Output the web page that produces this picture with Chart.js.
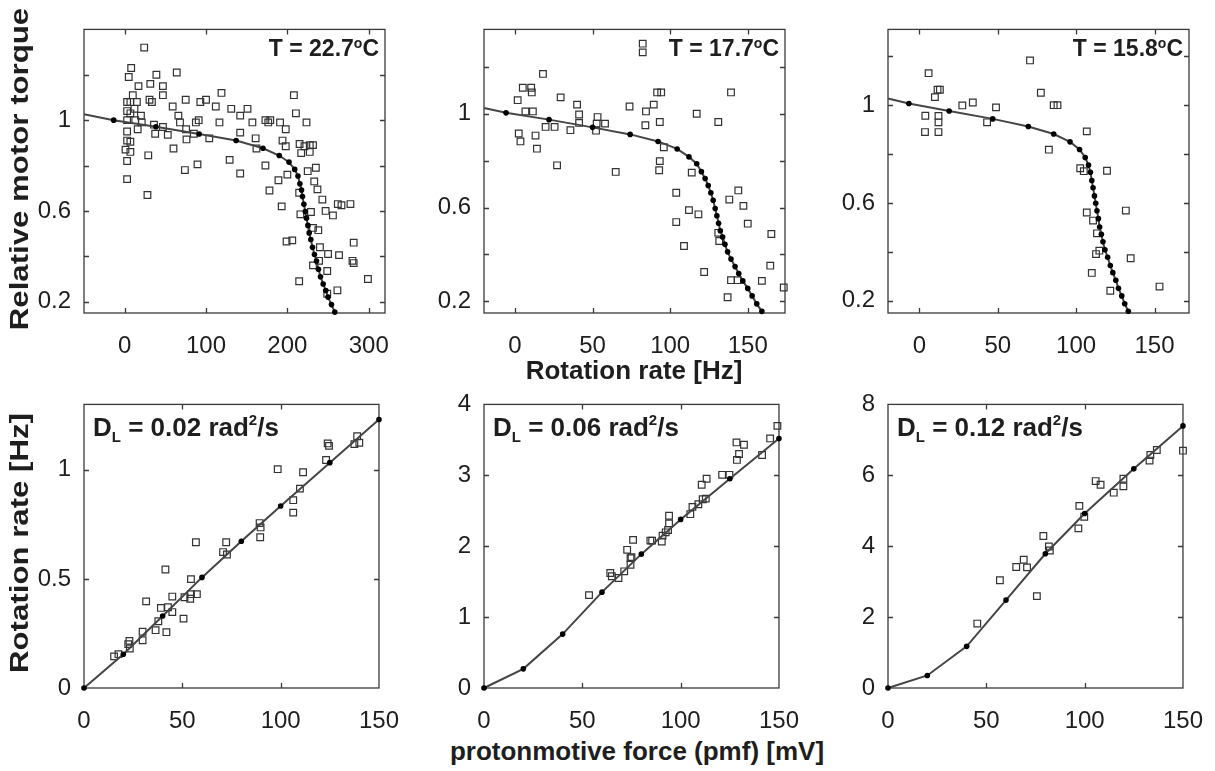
<!DOCTYPE html>
<html>
<head>
<meta charset="utf-8">
<script src="https://cdn.jsdelivr.net/npm/chart.js@4.4.0/dist/chart.umd.min.js"></script>
<style>
  body { margin: 0; background: #fff; width: 1215px; height: 771px; position: relative; overflow: hidden;
         font-family: 'Liberation Sans', Arial, sans-serif; color: #1e1e1e; }
  canvas { position: absolute; }
  .lbl { position: absolute; font-weight: bold; font-size: 26px; white-space: nowrap; transform: translate(-50%, -50%); }
  .rot { transform: translate(-50%, -50%) rotate(-90deg) scale(1.2, 1); }
</style>
</head>
<body>
<canvas id="p1" width="386" height="343"></canvas>
<canvas id="p2" width="386" height="343"></canvas>
<canvas id="p3" width="386" height="343"></canvas>
<canvas id="p4" width="386" height="343"></canvas>
<canvas id="p5" width="386" height="343"></canvas>
<canvas id="p6" width="386" height="343"></canvas>
<div class="lbl rot" style="left:19px;top:169px">Relative motor torque</div>
<div class="lbl rot" style="left:19px;top:543px">Rotation rate [Hz]</div>
<div class="lbl" style="left:634px;top:370px">Rotation rate [Hz]</div>
<div class="lbl" style="left:637px;top:751px">protonmotive force (pmf) [mV]</div>
<script>
// ---- data: [x, y] pairs ----
// top row: relative torque vs rotation rate (Hz)
const p1Squares = [[24,1.32],[8,1.23],[5,1.19],[39,1.2],[64,1.21],[31.5,1.16],[17,1.15],[47,1.15],[10,1.11],[3,1.08],[7,1.08],[15,1.08],[30.5,1.09],[33.5,1.08],[47,1.11],[59,1.06],[75,1.09],[93,1.08],[100,1.09],[119,1.12],[112,1.06],[131,1.05],[142,1.02],[151,1.05],[157,0.99],[3,1.04],[7,1.03],[12,1.05],[20,1.02],[13,1.0],[21,0.99],[3,1.0],[66,1.02],[68,0.99],[87.5,0.99],[91,1.0],[116.5,0.99],[3,0.95],[16,0.96],[36,0.98],[37.5,0.94],[47,0.97],[53,0.935],[75.5,0.96],[76,0.915],[85,0.94],[104,0.92],[3,0.91],[7,0.905],[1,0.87],[7,0.86],[3,0.82],[29,0.845],[3,0.74],[28,0.67],[60,0.875],[74,0.78],[89.5,0.805],[129,0.825],[142,0.765],[142,0.945],[161,0.92],[162,0.875],[173,1.0],[179,1.0],[176.5,0.99],[191,0.99],[198,0.96],[194,0.91],[198,0.885],[208,1.11],[210.5,1.03],[223.5,0.99],[215,0.895],[217,0.855],[221,0.885],[227.5,0.89],[231.5,0.89],[227.5,0.86],[173,0.8],[178,0.69],[189,0.735],[193,0.62],[200,0.76],[199,0.465],[206,0.47],[214.5,0.29],[225,0.775],[235,0.79],[233,0.73],[237,0.695],[214.5,0.68],[216,0.585],[229,0.595],[243,0.65],[247,0.6],[256,0.58],[262,0.63],[266.5,0.625],[277.5,0.63],[231.5,0.525],[238,0.515],[240,0.44],[250,0.41],[239,0.38],[231.5,0.36],[249,0.335],[263.5,0.405],[280,0.38],[281.5,0.37],[281.5,0.46],[299,0.3],[261.5,0.25],[249,0.235]];
const p1Fit = [[-50,1.026],[-13.5,1.0],[38.4,0.971],[91.5,0.939],[137,0.91],[170,0.876],[190,0.844],[202,0.815],[209,0.783],[213,0.754],[215.4,0.72],[217.4,0.692],[218.6,0.663],[220.3,0.629],[222,0.597],[223.5,0.568],[225.2,0.536],[226.8,0.503],[228.8,0.474],[230.9,0.44],[233.3,0.408],[235.8,0.379],[238.2,0.343],[240.7,0.31],[244,0.278],[247.2,0.249],[250,0.22],[254.2,0.187],[258.3,0.154]];

const p2Squares = [[82.3,1.299],[82.3,1.262],[18,1.17],[5,1.111],[10.4,1.111],[10.8,1.091],[1.7,1.058],[6.7,1.01],[11.5,1.01],[2.4,0.916],[3.5,0.882],[13.2,0.907],[14.1,0.851],[27.1,0.78],[19.7,0.944],[25.5,0.944],[29.4,1.07],[40,1.039],[41.3,0.997],[41.3,0.961],[35.7,0.93],[52.2,0.928],[53.2,0.986],[52.6,0.958],[58,0.958],[64.9,0.752],[73.8,1.031],[84.4,1.01],[84,0.951],[89.4,1.039],[91.6,1.091],[94.2,1.091],[93.3,0.965],[95.9,0.857],[93.3,0.798],[92.9,0.759],[117.1,1.0],[131,0.965],[139.2,1.091],[113.9,0.749],[103.9,0.663],[103.9,0.538],[112.1,0.589],[118.2,0.571],[108.9,0.436],[121.9,0.325],[131,0.492],[131.6,0.457],[138.1,0.634],[143.9,0.673],[147.2,0.607],[150,0.531],[139.2,0.29],[143.5,0.29],[137,0.217],[159.1,0.287],[164.5,0.352],[165.2,0.487],[173.2,0.259]];
const p2Fit = [[-20,1.025],[-5.8,1.004],[21.9,0.975],[50,0.942],[74.2,0.912],[92.2,0.882],[104.5,0.85],[112.1,0.816],[117.1,0.787],[120.1,0.753],[122.5,0.724],[124.5,0.694],[126.2,0.663],[127.7,0.631],[129,0.596],[130.1,0.565],[131.2,0.533],[132.3,0.501],[133.8,0.474],[135.3,0.443],[137,0.411],[139.2,0.38],[141.8,0.348],[144.2,0.318],[146.8,0.287],[150,0.255],[152.8,0.223],[155.8,0.189],[159.1,0.157]];

const p3Squares = [[5.9,1.131],[70.6,1.183],[9.9,1.033],[11.6,1.063],[13.1,1.063],[3.8,0.957],[12.2,0.956],[12.2,0.93],[3.6,0.89],[12.2,0.89],[27.4,0.999],[34.1,1.011],[43.2,0.93],[48.9,0.991],[77.5,1.051],[85.7,1.0],[88.1,1.0],[82.6,0.818],[106.8,0.893],[102.6,0.742],[104.9,0.73],[119.7,0.732],[106.8,0.561],[110.8,0.528],[113.3,0.476],[112.7,0.391],[114.8,0.405],[110,0.314],[121.8,0.241],[131.7,0.569],[134.8,0.374],[153.2,0.258]];
const p3Fit = [[-20,1.027],[-6.7,1.007],[19,0.976],[46.8,0.944],[69.5,0.913],[85.7,0.882],[96.1,0.85],[102.2,0.819],[105.8,0.786],[107.9,0.755],[109.1,0.726],[110,0.692],[110.8,0.662],[111.7,0.629],[112.5,0.599],[113.3,0.568],[114.2,0.536],[115,0.502],[116.1,0.472],[117.1,0.441],[118.4,0.409],[120.1,0.378],[121.8,0.344],[123.4,0.315],[125.3,0.284],[127,0.251],[129.1,0.22],[131,0.188],[133.3,0.157]];

// bottom row: rotation rate (Hz) vs pmf (mV)
const p4Squares = [[15.3,0.145],[17.5,0.155],[22.5,0.201],[23.3,0.181],[23.1,0.216],[29.8,0.219],[29.8,0.258],[31.6,0.397],[36.4,0.265],[37.8,0.306],[39.1,0.367],[41.9,0.256],[41.4,0.543],[42.7,0.37],[44.9,0.348],[44.9,0.419],[50.6,0.318],[51.1,0.416],[54,0.409],[54.4,0.499],[54.4,0.43],[57.4,0.43],[56.9,0.668],[70.7,0.623],[72.7,0.612],[72.3,0.668],[89.3,0.756],[89.8,0.736],[89.6,0.691],[98.5,1.003],[106.4,0.861],[106.4,0.804],[109.8,0.914],[111.4,0.989],[123.1,1.045],[123.9,1.121],[124.6,1.11],[137.5,1.118],[138.9,1.154],[140,1.124]];
const p4Fit = [[0,0],[20,0.155],[40,0.33],[60,0.507],[80,0.673],[100,0.834],[125,1.033],[150,1.231]];

const p5Squares = [[53.4,1.31],[64.2,1.622],[65,1.576],[68.4,1.552],[71.3,1.646],[72.8,1.949],[74.5,1.832],[74.5,1.739],[75.8,2.089],[75,1.846],[84.6,2.079],[85.5,2.079],[90.4,2.065],[90.8,2.149],[92.4,2.196],[93.6,2.228],[94.1,2.322],[94.1,2.429],[104.9,2.452],[106,2.555],[109,2.592],[111.2,2.662],[112.8,2.671],[110.7,2.867],[113.2,2.951],[121.1,3.007],[124.8,3.007],[128.6,3.217],[129.7,3.301],[128.4,3.464],[132.2,3.431],[141.4,3.287],[145.5,3.52],[149.2,3.697]];
const p5Fit = [[0,0],[20,0.27],[40,0.76],[60,1.352],[80,1.888],[100,2.378],[125,2.951],[150,3.52]];

const p6Squares = [[45.4,1.818],[56.9,3.04],[65.2,3.413],[69,3.618],[70.7,3.403],[75.7,2.592],[79,4.289],[81.8,3.991],[82.3,3.879],[96.8,4.503],[97.3,5.138],[99.8,4.83],[105.6,5.837],[108.1,5.734],[114.8,5.51],[119.7,5.902],[119.7,5.688],[133,6.415],[133.4,6.573],[136.7,6.713],[150,6.695]];
const p6Fit = [[0,0],[20,0.354],[40,1.175],[60,2.48],[80,3.786],[100,4.923],[125,6.182],[150,7.394]];

const FONT = "'Liberation Sans', Arial, sans-serif";
const TICK_FONT = "'Liberation Sans Narrow', 'Arial Narrow', 'Liberation Sans', Arial, sans-serif";
const INK = '#1e1e1e';

// MATLAB style box with inward ticks on all four sides
const boxTicks = {
  id: 'boxTicks',
  beforeDatasetsDraw(chart) {
    const { ctx, chartArea: a, scales: { x, y } } = chart;
    ctx.save();
    ctx.strokeStyle = '#3a3a3a';
    ctx.lineWidth = 1.3;
    ctx.strokeRect(a.left, a.top, a.width, a.height);
    ctx.beginPath();
    x.ticks.forEach(t => {
      const px = Math.round(x.getPixelForValue(t.value)) + 0.5;
      if (px <= a.left + 1 || px >= a.right - 1) return;
      ctx.moveTo(px, a.bottom); ctx.lineTo(px, a.bottom - 5);
      ctx.moveTo(px, a.top); ctx.lineTo(px, a.top + 5);
    });
    y.ticks.forEach(t => {
      const py = Math.round(y.getPixelForValue(t.value)) + 0.5;
      if (py <= a.top + 1 || py >= a.bottom - 1) return;
      ctx.moveTo(a.left, py); ctx.lineTo(a.left + 5, py);
      ctx.moveTo(a.right, py); ctx.lineTo(a.right - 5, py);
    });
    ctx.stroke();
    ctx.restore();
  }
};

// in-plot label with sub/superscripts
const note = {
  id: 'note',
  afterDraw(chart, args, opts) {
    if (!opts.parts) return;
    const { ctx, chartArea: a } = chart;
    const fontOf = p => `bold ${p.size}px ${FONT}`;
    ctx.save();
    ctx.fillStyle = INK;
    ctx.textBaseline = 'alphabetic';
    let w = 0;
    opts.parts.forEach(p => { ctx.font = fontOf(p); w += ctx.measureText(p.t).width; });
    let x = opts.align === 'right' ? a.right - opts.dx - w : a.left + opts.dx;
    const base = a.top + opts.dy;
    opts.parts.forEach(p => {
      ctx.font = fontOf(p);
      ctx.fillText(p.t, x, base - (p.rise || 0));
      x += ctx.measureText(p.t).width;
    });
    ctx.restore();
  }
};

const near = (v, list) => list.some(s => Math.abs(v - s) < 1e-6);

function makePanel(id, left, top, cfg) {
  const el = document.getElementById(id);
  el.style.left = (left - 60) + 'px';
  el.style.top = (top - 15) + 'px';
  const pts = arr => arr.map(p => ({ x: p[0], y: p[1] }));
  new Chart(el, {
    type: 'scatter',
    data: {
      datasets: [
        {
          label: 'model',
          data: pts(cfg.fit),
          showLine: true,
          borderColor: '#454545',
          borderWidth: 2,
          pointRadius: cfg.fit.map((p, i) => (cfg.skipFirst && i === 0) ? 0 : 2.8),
          pointBackgroundColor: '#000',
          pointBorderWidth: 0,
          clip: false
        },
        {
          label: 'data',
          data: pts(cfg.squares),
          pointStyle: 'rect',
          pointRadius: 4.7,
          pointBorderColor: '#333',
          pointBorderWidth: 1.2,
          pointBackgroundColor: 'rgba(0,0,0,0)',
          clip: false
        }
      ]
    },
    options: {
      responsive: false,
      animation: false,
      layout: { padding: { left: 0, top: 15, right: 25, bottom: 0 } },
      plugins: {
        legend: { display: false },
        tooltip: { enabled: false },
        note: cfg.note
      },
      scales: {
        x: {
          type: 'linear', min: cfg.xMin, max: cfg.xMax,
          grid: { display: false }, border: { display: false },
          afterFit: s => { s.height = 40; },
          ticks: { stepSize: cfg.xStep, includeBounds: false, padding: 11, maxRotation: 0,
                   color: INK, font: { family: TICK_FONT, size: 24 } }
        },
        y: {
          type: 'linear', min: cfg.yMin, max: cfg.yMax,
          grid: { display: false }, border: { display: false },
          afterFit: s => { s.width = 60; },
          ticks: { stepSize: cfg.yStep, includeBounds: false, padding: 5,
                   color: INK, font: { family: TICK_FONT, size: 24 },
                   callback: cfg.yLabel }
        }
      }
    },
    plugins: [boxTicks, note]
  });
}

const torqueLabel = v => near(v, [0.2, 0.6, 1]) ? String(Math.round(v * 10) / 10) : '';
const rateLabel = v => String(Math.round(v * 10) / 10);
const tNote = t => ({ align: 'right', dx: 6, dy: 27, parts: [
  { t: 'T = ' + t, size: 23 }, { t: 'o', size: 14, rise: 8 }, { t: 'C', size: 23 }] });
const dNote = d => ({ align: 'left', dx: 9, dy: 32, parts: [
  { t: 'D', size: 26 }, { t: 'L', size: 15, rise: -6 }, { t: ' = ' + d + ' rad', size: 26 },
  { t: '2', size: 15, rise: 11 }, { t: '/s', size: 26 }] });

makePanel('p1', 84, 25, { squares: p1Squares, fit: p1Fit, skipFirst: true, xMin: -50, xMax: 320, xStep: 100,
  yMin: 0.15, yMax: 1.4, yStep: 0.2, yLabel: torqueLabel, note: tNote('22.7') });
makePanel('p2', 484, 25, { squares: p2Squares, fit: p2Fit, skipFirst: true, xMin: -20, xMax: 174, xStep: 50,
  yMin: 0.15, yMax: 1.36, yStep: 0.2, yLabel: torqueLabel, note: tNote('17.7') });
makePanel('p3', 888, 25, { squares: p3Squares, fit: p3Fit, skipFirst: true, xMin: -20, xMax: 172, xStep: 50,
  yMin: 0.15, yMax: 1.31, yStep: 0.2, yLabel: torqueLabel, note: tNote('15.8') });
makePanel('p4', 84, 400, { squares: p4Squares, fit: p4Fit, xMin: 0, xMax: 150, xStep: 50,
  yMin: 0, yMax: 1.3, yStep: 0.5, yLabel: rateLabel, note: dNote('0.02') });
makePanel('p5', 484, 400, { squares: p5Squares, fit: p5Fit, xMin: 0, xMax: 150, xStep: 50,
  yMin: 0, yMax: 4, yStep: 1, yLabel: rateLabel, note: dNote('0.06') });
makePanel('p6', 888, 400, { squares: p6Squares, fit: p6Fit, xMin: 0, xMax: 150, xStep: 50,
  yMin: 0, yMax: 8, yStep: 2, yLabel: rateLabel, note: dNote('0.12') });
</script>
</body>
</html>
